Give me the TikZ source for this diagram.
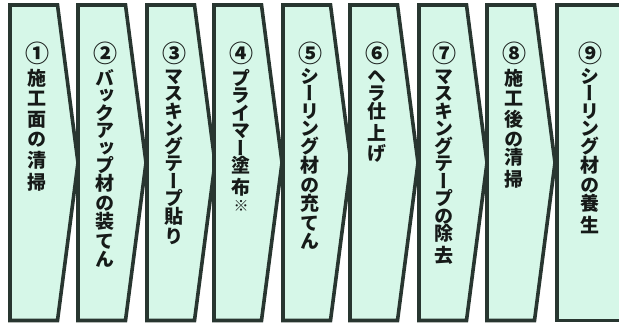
\documentclass[tikz,border=0pt]{standalone}
\usepackage{fontspec}
\newfontfamily\jp[RawFeature=+vert]{Noto Sans CJK JP}
\definecolor{mint}{RGB}{214,247,232}
\definecolor{edgec}{RGB}{40,54,48}
\definecolor{inkc}{RGB}{22,26,24}
\newcommand\K{\\[3pt]}
\newcommand\C[1]{{\fontsize{24}{17.5}\selectfont #1}\\[3pt]}
\tikzset{
  chev/.style={fill=mint, draw=edgec, line width=3.6pt, line join=miter, miter limit=10},
  lbl/.style={anchor=north, align=center, inner sep=0pt, text=inkc,
    font=\jp\bfseries\fontsize{19}{17.5}\selectfont},
}
\newcommand\chevron[1]{%
  \draw[chev] (#1,5) -- (#1+47.5,5) -- (#1+68,162.7) -- (#1+47.5,320.5) -- (#1,320.5) -- cycle;}
\begin{document}
\begin{tikzpicture}[x=1pt,y=-1pt]
\useasboundingbox (0,0) rectangle (619,323);
\fill[white] (0,0) rectangle (619,323);
\chevron{10}
\chevron{78}
\chevron{147}
\chevron{214}
\chevron{283}
\chevron{350}
\chevron{419}
\chevron{487}
\draw[chev] (630,5) -- (557,5) -- (557,320.5) -- (630,320.5);
\node[lbl] (t1) at (37,42) {\C{①}施\K 工\K 面\K の\K 清\K 掃};
\node[lbl] (t2) at (105,42) {\C{②}バ\\ッ\\ク\\ア\\ッ\\プ\\材\K の\\装\K て\\ん};
\node[lbl] (t3) at (174,42) {\C{③}マ\\ス\\キ\\ン\\グ\\テ\\ー\\プ\\貼\K り};
\node[lbl] (t4) at (241,42) {\C{④}プ\\ラ\\イ\\マ\\ー\\塗\K 布\\{\fontsize{15}{12}\selectfont ※}};
\node[lbl] (t5) at (310,42) {\C{⑤}シ\\ー\\リ\\ン\\グ\\材\K の\\充\K て\\ん};
\node[lbl] (t6) at (377,42) {\C{⑥}ヘ\\ラ\\仕\K 上\K げ};
\node[lbl] (t7) at (444,42) {\C{⑦}マ\\ス\\キ\\ン\\グ\\テ\\ー\\プ\\の\\除\K 去};
\node[lbl] (t8) at (514,42) {\C{⑧}施\K 工\K 後\K の\\清\K 掃};
\node[lbl] (t9) at (590,42) {\C{⑨}シ\\ー\\リ\\ン\\グ\\材\K の\\養\K 生};
\end{tikzpicture}
\end{document}
